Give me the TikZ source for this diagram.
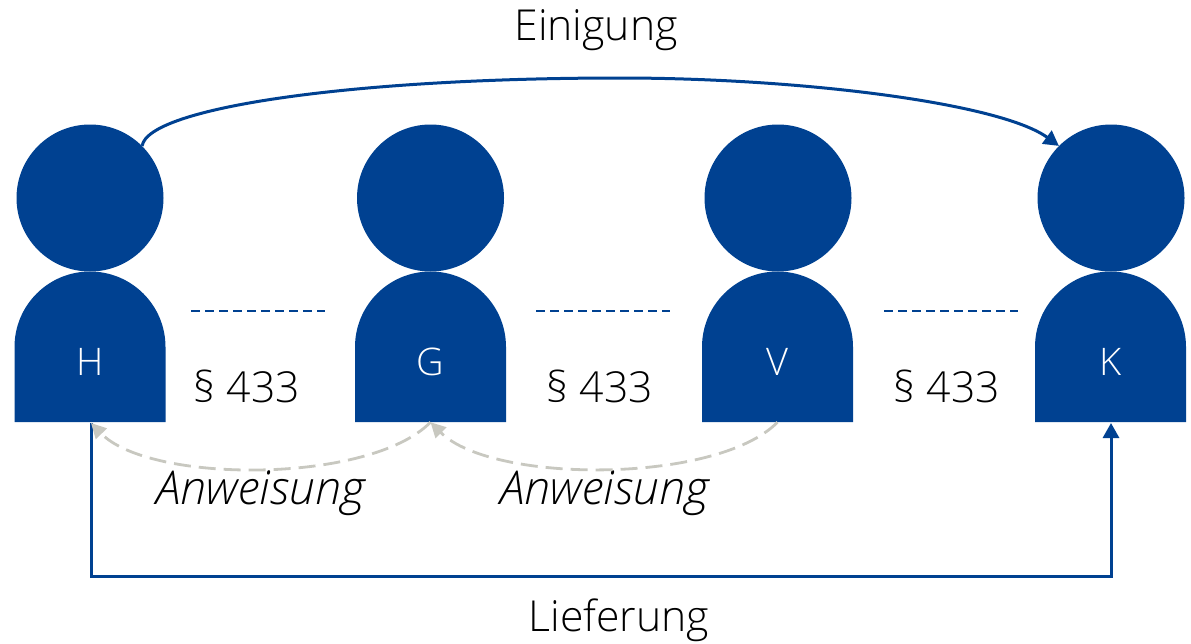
\documentclass[tikz,border=0pt]{standalone}
\usepackage{fontspec}
\setmainfont{Open Sans Light}
\usetikzlibrary{arrows.meta}
\definecolor{hblue}{RGB}{0,65,145}
\definecolor{hgray}{RGB}{200,200,192}
\tikzset{
  x=1pt,y=-1pt,
  head/.style={circle,fill=hblue,draw=none,inner sep=0pt,minimum size=147pt},
  bodybox/.style={rectangle,draw=none,inner sep=0pt,minimum width=151pt,minimum height=150pt},
  bodyfill/.style={fill=hblue,draw=none},
  letter/.style={text=white,inner sep=0pt,font=\fontsize{38}{40}\selectfont},
  para/.style={text=black,inner sep=0pt,font=\fontsize{42.7}{48}\selectfont},
  caption/.style={text=black,inner sep=0pt,font=\fontsize{42.7}{48}\selectfont},
  anw/.style={text=black,inner sep=0pt,font=\fontsize{46.6}{52}\selectfont\itshape},
  relation/.style={hblue,line width=1.6pt,dash pattern=on 9pt off 5pt},
  mainarrow/.style={hblue,line width=3pt,-{Triangle[length=15pt,width=16pt]}},
  instr/.style={hgray,line width=2.8pt,dash pattern=on 17pt off 8pt,-{Triangle[length=15pt,width=15pt]}}
}
\newcommand{\person}[4]{%
  \path[bodyfill] (#2-75.5,422) -- (#2-75.5,347) arc[start angle=180,end angle=0,radius=75.5pt] -- (#2+75.5,422) -- cycle;
  \node[bodybox] (#1b) at (#2,347) {};
  \node[head] (#1h) at (#3,198) {};
  \node[letter] (#1l) at (#2,362) {#4};
}
\begin{document}
\begin{tikzpicture}
\useasboundingbox (0,0) rectangle (1191,643);
\person{a}{90}{90}{H}
\person{g}{430.5}{430.5}{G}
\person{v}{777.5}{778}{V}
\person{k}{1110.5}{1111}{K}
\coordinate (d1a) at (191,311); \coordinate (d1b) at (325,311);
\coordinate (d2a) at (536,311); \coordinate (d2b) at (670,311);
\coordinate (d3a) at (884,311); \coordinate (d3b) at (1018,311);
\draw[relation] (d1a) -- (d1b);
\draw[relation] (d2a) -- (d2b);
\draw[relation] (d3a) -- (d3b);
\node[para] (p1) at (247,386.5) {§ 433};
\node[para] (p2) at (600,386.5) {§ 433};
\node[para] (p3) at (947,386.5) {§ 433};
\node[anw] (w1) at (261,493) {Anweisung};
\node[anw] (w2) at (605,493) {Anweisung};
\node[caption] (e) at (596,30) {Einigung};
\node[caption] (l) at (619,620.5) {Lieferung};
\coordinate (as) at (91,423);
\coordinate (ks) at (1111,423);
\coordinate (c1) at (91,576);
\coordinate (c2) at (1111,576);
\draw[mainarrow] (ah.45) .. controls (148,108) and (350,78) .. (620,78) .. controls (800,78) and (1000,103) .. (kh.135);
\draw[mainarrow] (as) -- (c1) -- (c2) -- (ks);
\draw[instr] (vb.south) .. controls (717,484) and (492,484) .. (gb.south);
\draw[instr] (gb.south) .. controls (370,484) and (150,484) .. (as);
\end{tikzpicture}
\end{document}
